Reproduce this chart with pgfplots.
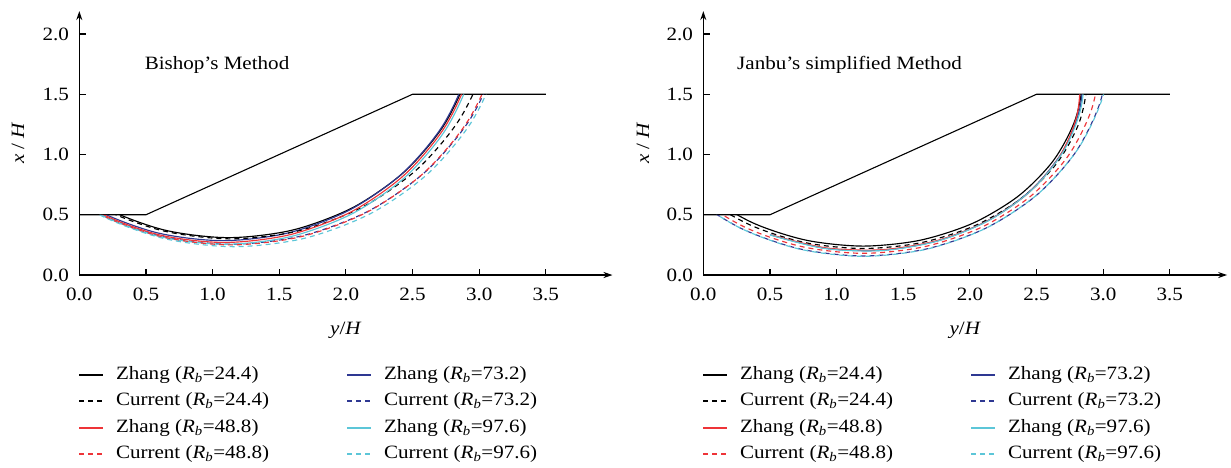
\documentclass[border=0pt]{standalone}
\usepackage{fontspec}
\setmainfont{Liberation Serif}[FakeStretch=1.12]
\usepackage{pgfplots}
\pgfplotsset{compat=1.18}
\usetikzlibrary{arrows.meta}
\definecolor{zred}{RGB}{238,52,56}
\definecolor{zblue}{RGB}{46,56,146}
\definecolor{zcyan}{RGB}{92,198,216}
\pgfplotsset{
  slipaxis/.style={
    x=133.3pt, y=120.5pt,
    xmin=0, ymin=0, ymax=2.19,
    axis lines=left,
    axis line style={line width=1.2pt, -{Stealth[length=9pt,width=6pt]}},
    xtick={0,0.5,...,3.5}, ytick={0,0.5,...,2.0},
    xticklabels={0.0,0.5,1.0,1.5,2.0,2.5,3.0,3.5},
    yticklabels={0.0,0.5,1.0,1.5,2.0},
    tick align=inside, major tick length=6.5pt,
    tick style={line width=1.1pt, black},
    xticklabel style={yshift=-7pt},
    yticklabel style={xshift=-4pt},
    xlabel={\textit{y}/\textit{H}},
    ylabel={\textit{x} / \textit{H}},
    xlabel style={at={(axis description cs:0.5,-0.208)}, anchor=center},
    ylabel style={at={(axis description cs:-0.115,0.5)}, anchor=center},
    legend columns=2,
    legend cell align=left,
    legend image code/.code={\draw[#1] (0pt,0pt) -- (24pt,0pt);},
    legend image post style={line width=2pt},
    legend style={draw=none, fill=none, at={(0,0)}, anchor=north west,
      yshift=-88pt, xshift=-4.5pt, column sep=6pt, row sep=7.5pt,
      /tikz/every even column/.append style={column sep=71pt},
      nodes={inner xsep=6pt, inner ysep=0pt, text height=14pt, text depth=5pt}},
    zs/.style={line width=1.15pt, smooth},
    cs/.style={line width=1.15pt, smooth, dash pattern=on 5pt off 4pt},
  }
}
\begin{document}
\fontsize{18.8}{22}\selectfont
\begin{tikzpicture}
\path[use as bounding box] (0pt,0pt) rectangle (1231pt,-467pt);
% ---------------- Bishop ----------------
\begin{axis}[slipaxis, at={(79.3pt,-275pt)}, anchor=south west, xmax=4.0]
\addplot[black, line width=1.1pt, forget plot] coordinates {(0,0.5)(0.5,0.5)(2.5,1.5)(3.5,1.5)};
\node[anchor=west, inner sep=0pt] at (axis cs:0.49,1.743) {Bishop's Method};
\clip (axis cs:0,0) -- (axis cs:0,0.5) -- (axis cs:0.5,0.5) -- (axis cs:2.5,1.5) -- (axis cs:4,1.5) -- (axis cs:4,0) -- cycle;
\addplot[black, zs] coordinates {(-0.1984,0.8561)(0.1877,0.5598)(0.6375,0.3736)(1.12,0.31)(1.6025,0.3736)(2.0523,0.5598)(2.4384,0.8561)(2.7347,1.2422)(2.9209,1.692)(2.9845,2.1745)};
\addlegendentry{Zhang (\textit{R}\textsubscript{\textit{b}}=24.4)}
\addplot[zblue, zs] coordinates {(-0.2657,0.8416)(0.1278,0.5396)(0.5862,0.3498)(1.078,0.285)(1.5698,0.3498)(2.0282,0.5396)(2.4217,0.8416)(2.7237,1.2351)(2.9135,1.6935)(2.9783,2.1853)};
\addlegendentry{Zhang (\textit{R}\textsubscript{\textit{b}}=73.2)}
\addplot[black, cs] coordinates {(-0.2626,0.8797)(0.1473,0.5652)(0.6247,0.3675)(1.137,0.30)(1.6493,0.3675)(2.1267,0.5652)(2.5366,0.8797)(2.8511,1.2896)(3.0488,1.767)(3.1163,2.2793)};
\addlegendentry{Current (\textit{R}\textsubscript{\textit{b}}=24.4)}
\addplot[zblue, cs] coordinates {(-0.3271,0.8614)(0.1017,0.5324)(0.6012,0.3256)(1.137,0.255)(1.6728,0.3256)(2.1723,0.5324)(2.6011,0.8614)(2.9301,1.2902)(3.1369,1.7897)(3.2075,2.3255)};
\addlegendentry{Current (\textit{R}\textsubscript{\textit{b}}=73.2)}
\addplot[zred, zs] coordinates {(-0.2607,0.8287)(0.1343,0.5256)(0.5944,0.335)(1.088,0.27)(1.5816,0.335)(2.0417,0.5256)(2.4367,0.8287)(2.7398,1.2237)(2.9304,1.6838)(2.9954,2.1774)};
\addlegendentry{Zhang (\textit{R}\textsubscript{\textit{b}}=48.8)}
\addplot[zcyan, zs] coordinates {(-0.2549,0.8146)(0.1407,0.511)(0.6016,0.3201)(1.096,0.255)(1.5904,0.3201)(2.0513,0.511)(2.4469,0.8146)(2.7505,1.2102)(2.9414,1.6711)(3.0065,2.1655)};
\addlegendentry{Zhang (\textit{R}\textsubscript{\textit{b}}=97.6)}
\addplot[zred, cs] coordinates {(-0.3066,0.8492)(0.1171,0.5241)(0.6105,0.3198)(1.14,0.25)(1.6695,0.3198)(2.1629,0.5241)(2.5866,0.8492)(2.9117,1.2729)(3.116,1.7663)(3.1858,2.2958)};
\addlegendentry{Current (\textit{R}\textsubscript{\textit{b}}=48.8)}
\addplot[zcyan, cs] coordinates {(-0.293,0.8365)(0.1322,0.5102)(0.6276,0.305)(1.159,0.235)(1.6904,0.305)(2.1858,0.5102)(2.611,0.8365)(2.9373,1.2617)(3.1425,1.7571)(3.2125,2.2885)};
\addlegendentry{Current (\textit{R}\textsubscript{\textit{b}}=97.6)}
\end{axis}
% ---------------- Janbu ----------------
\begin{axis}[slipaxis, at={(703.3pt,-275pt)}, anchor=south west, xmax=3.93]
\addplot[black, line width=1.1pt, forget plot] coordinates {(0,0.5)(0.5,0.5)(2.5,1.5)(3.5,1.5)};
\node[anchor=west, inner sep=0pt] at (axis cs:0.253,1.743) {Janbu's simplified Method};
\clip (axis cs:0,0) -- (axis cs:0,0.5) -- (axis cs:0.5,0.5) -- (axis cs:2.5,1.5) -- (axis cs:4,1.5) -- (axis cs:4,0) -- cycle;
\addplot[black, zs] coordinates {(-0.2272,0.9512)(0.0347,0.6567)(0.376,0.4306)(0.7735,0.2885)(1.2,0.24)(1.6265,0.2885)(2.024,0.4306)(2.3653,0.6567)(2.6272,0.9512)(2.7918,1.2944)(2.848,1.6625)(2.7918,2.0306)};
\addlegendentry{Zhang (\textit{R}\textsubscript{\textit{b}}=24.4)}
\addplot[zblue, zs] coordinates {(0.5029,0.3339)(0.9136,0.2217)(1.3438,0.2054)(1.7642,0.2861)(2.1462,0.4583)(2.4636,0.7103)(2.695,1.0249)(2.8245,1.3806)(2.8433,1.7532)(2.7501,2.1172)};
\addlegendentry{Zhang (\textit{R}\textsubscript{\textit{b}}=73.2)}
\addplot[black, cs] coordinates {(-0.2562,0.9341)(0.011,0.6383)(0.3592,0.4114)(0.7648,0.2687)(1.2,0.22)(1.6352,0.2687)(2.0408,0.4114)(2.389,0.6383)(2.6562,0.9341)(2.8242,1.2787)(2.8815,1.6483)(2.8242,2.0179)};
\addlegendentry{Current (\textit{R}\textsubscript{\textit{b}}=24.4)}
\addplot[zblue, cs] coordinates {(-0.3944,1.0214)(-0.1018,0.6638)(0.2794,0.3894)(0.7235,0.2169)(1.2,0.158)(1.6765,0.2169)(2.1206,0.3894)(2.5018,0.6638)(2.7944,1.0214)(2.9783,1.4379)(3.0411,1.8848)(2.9783,2.3317)};
\addlegendentry{Current (\textit{R}\textsubscript{\textit{b}}=73.2)}
\addplot[zred, zs] coordinates {(0.5121,0.332)(0.9174,0.2256)(1.3419,0.2101)(1.7567,0.2867)(2.1337,0.45)(2.4469,0.689)(2.6753,0.9874)(2.8031,1.3248)(2.8216,1.6782)(2.7296,2.0234)};
\addlegendentry{Zhang (\textit{R}\textsubscript{\textit{b}}=48.8)}
\addplot[zcyan, zs] coordinates {(0.4991,0.3329)(0.9121,0.2199)(1.3446,0.2035)(1.7672,0.2848)(2.1514,0.4583)(2.4705,0.7123)(2.7032,1.0294)(2.8334,1.3879)(2.8523,1.7635)(2.7586,2.1303)};
\addlegendentry{Zhang (\textit{R}\textsubscript{\textit{b}}=97.6)}
\addplot[zred, cs] coordinates {(-0.3362,0.9872)(-0.0543,0.6529)(0.313,0.3963)(0.7409,0.2351)(1.2,0.18)(1.6591,0.2351)(2.087,0.3963)(2.4543,0.6529)(2.7362,0.9872)(2.9134,1.3767)(2.9739,1.7945)(2.9134,2.2123)};
\addlegendentry{Current (\textit{R}\textsubscript{\textit{b}}=48.8)}
\addplot[zcyan, cs] coordinates {(-0.4101,1.0451)(-0.1146,0.6764)(0.2704,0.3936)(0.7188,0.2157)(1.2,0.155)(1.6812,0.2157)(2.1296,0.3936)(2.5146,0.6764)(2.8101,1.0451)(2.9958,1.4746)(3.0592,1.9353)(2.9958,2.396)};
\addlegendentry{Current (\textit{R}\textsubscript{\textit{b}}=97.6)}
\end{axis}
\end{tikzpicture}
\end{document}
